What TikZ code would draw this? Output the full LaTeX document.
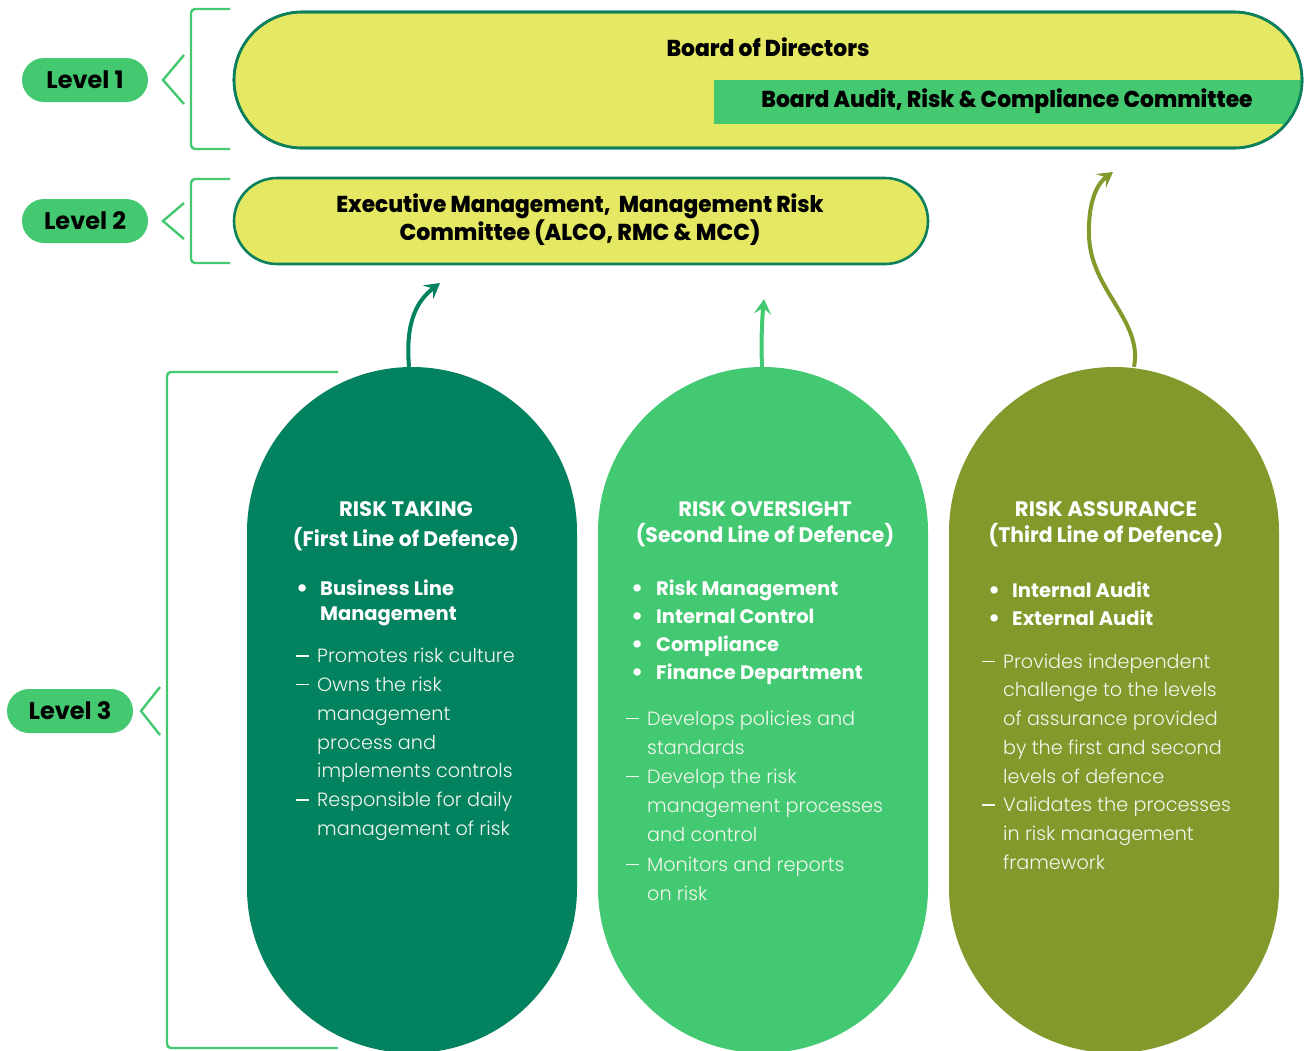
\documentclass[tikz,border=0pt]{standalone}
\usepackage{fontspec}
\setmainfont{Poppins}
\newfontfamily\lightfont{Poppins Light}
\newfontfamily\heavyfont{Poppins ExtraBold}
\usetikzlibrary{arrows.meta}

\definecolor{pillyellow}{HTML}{E5E862}
\definecolor{edgegreen}{HTML}{0B7F5E}
\definecolor{taggreen}{HTML}{44C971}
\definecolor{darkcol}{HTML}{03825F}
\definecolor{midcol}{HTML}{43C972}
\definecolor{olivecol}{HTML}{82992B}
\definecolor{bodywhite}{HTML}{F2F7EE}

% list helpers
\newcommand\dl{\rule[0.32em]{13pt}{1.2pt}\hspace{8pt}}
\newcommand\ind{\hspace*{21pt}}
\newcommand\bl[1]{\makebox[#1][l]{\raisebox{-0.05em}{\scalebox{1.25}{\textbullet}}}}
% horizontally adjusted lettering for headings
\newcommand\cnd[2][0.87]{\scalebox{#1}[1]{#2}}

\tikzset{
  tag/.style={fill=taggreen, rounded corners=22pt, minimum width=126pt, minimum height=44pt,
    inner sep=0pt, font=\bfseries\fontsize{24}{24}\selectfont},
  bracketline/.style={draw=taggreen, line width=2.4pt, rounded corners=4pt},
  chev/.style={draw=taggreen, line width=2.4pt},
  boardpill/.style={fill=pillyellow, draw=edgegreen, line width=2.6pt, inner sep=0pt},
  boardtext/.style={font=\heavyfont\fontsize{23}{28}\selectfont, align=center},
  lineoval/.style={rounded corners=165pt, minimum width=330pt, minimum height=686pt, inner sep=0pt},
  ovaltitle/.style={text=white, align=center, font=\bfseries\fontsize{21}{#1}\selectfont},
  bullets/.style={text=white, align=left, anchor=west, inner sep=0pt, font=\bfseries\fontsize{19.5}{#1}\selectfont},
  body/.style={text=bodywhite, align=left, anchor=west, inner sep=0pt, font=\lightfont\fontsize{19.2}{#1}\selectfont},
  upflow/.style={line width=4pt, -{Stealth[length=15pt, width=17pt, inset=6pt]}},
}

\begin{document}
\begin{tikzpicture}[x=1pt, y=-1pt]
\useasboundingbox (0,0) rectangle (1305,1050);

% level tags and brackets
\node[tag] (lv1) at (85,80) {Level 1};
\node[tag] (lv2) at (85,221) {Level 2};
\node[tag] (lv3) at (70,711) {Level 3};

\draw[chev] (184,55) -- (163,80) -- (184,104);
\draw[chev] (184,203) -- (163,221) -- (184,239);
\draw[chev] (160,687) -- (141,711) -- (160,735);

\draw[bracketline] (230,9) -- (191,9) -- (191,149) -- (230,149);
\draw[bracketline] (230,179) -- (191,179) -- (191,263) -- (230,263);
\draw[bracketline] (338,372) -- (167,372) -- (167,1048) -- (338,1048);

% level 1: board
\node[boardpill, rounded corners=68pt, minimum width=1068pt, minimum height=136pt] (board) at (768,80) {};
\begin{scope}
  \clip[rounded corners=68pt] (234,12) rectangle (1302,148);
  \fill[taggreen] (714,80) rectangle (1310,124);
\end{scope}
\node[draw=edgegreen, line width=2.6pt, rounded corners=68pt, minimum width=1068pt, minimum height=136pt, inner sep=0pt] (boardedge) at (768,80) {};
\node[boardtext] (bod) at (768,47) {\cnd[0.95]{Board of Directors}};
\node[boardtext] (barc) at (1007,101.5) {\cnd[0.95]{Board Audit, Risk \& Compliance Committee}};

% level 2: executive management
\node[boardpill, rounded corners=43pt, minimum width=694pt, minimum height=86pt] (exec) at (581,221) {};
\node[boardtext] (exect) at (580,220) {\cnd[0.943]{Executive Management,\ \ Management Risk}\\\cnd[0.96]{Committee (ALCO, RMC \& MCC)}};

% level 3: three lines of defence
\node[lineoval, fill=darkcol] (o1) at (412,710) {};
\node[lineoval, fill=midcol] (o2) at (763,710) {};
\node[lineoval, fill=olivecol] (o3) at (1114,710) {};

\node[ovaltitle=30] (h1) at (406,526) {\cnd[1.01]{RISK TAKING}\\\cnd[0.97]{(First Line of Defence)}};
\node[ovaltitle=26] (h2) at (765,524) {\cnd[1.01]{RISK OVERSIGHT}\\\cnd[0.97]{(Second Line of Defence)}};
\node[ovaltitle=26] (h3) at (1106,524) {\cnd[1.01]{RISK ASSURANCE}\\\cnd[0.97]{(Third Line of Defence)}};

\node[bullets=25] (b1) at (296,602.5) {\bl{24pt}Business Line\\\hspace*{24pt}Management};
\node[bullets=28] (b2) at (631,632) {\bl{25pt}Risk Management\\\bl{25pt}Internal Control\\\bl{25pt}Compliance\\\bl{25pt}Finance Department};
\node[bullets=28] (b3) at (988,604) {\bl{24pt}Internal Audit\\\bl{24pt}External Audit};

\node[body=28.8] (d1) at (296,744.5) {\dl Promotes risk culture\\\dl Owns the risk\\\ind management\\\ind process and\\\ind implements controls\\\dl Responsible for daily\\\ind management of risk};
\node[body=29.2] (d2) at (626,805.5) {\dl Develops policies and\\\ind standards\\\dl Develop the risk\\\ind management processes\\\ind and control\\\dl Monitors and reports\\\ind on risk};
\node[body=28.7] (d3) at (982,761.5) {\dl Provides independent\\\ind challenge to the levels\\\ind of assurance provided\\\ind by the first and second\\\ind levels of defence\\\dl Validates the processes\\\ind in risk management\\\ind framework};

% reporting arrows
\coordinate (a1) at (440,283);
\coordinate (a2) at (764,299);
\coordinate (a3) at (1113,172);
\draw[upflow, darkcol] ([xshift=-3pt]o1.north) .. controls (405,320) and (418,300) .. (a1);
\draw[upflow, midcol] ([xshift=-1pt]o2.north) .. controls (761,340) and (762,320) .. (a2);
\draw[upflow, olivecol] ([xshift=20pt]o3.north) .. controls (1143,320) and (1090,290) .. (1089,235)
  .. controls (1088,200) and (1098,183) .. (a3);
\end{tikzpicture}
\end{document}
